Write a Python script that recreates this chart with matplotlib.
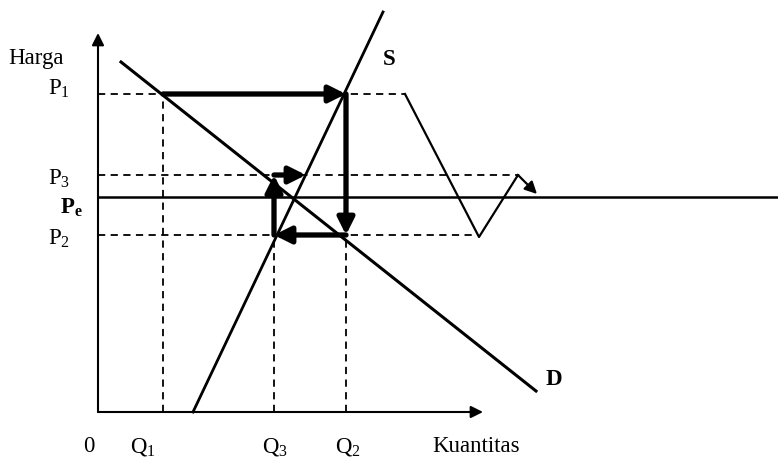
import matplotlib
matplotlib.use('Agg')
import matplotlib.pyplot as plt

plt.rcParams['font.family'] = 'Liberation Serif'
plt.rcParams['mathtext.fontset'] = 'custom'
plt.rcParams['mathtext.rm'] = 'Liberation Serif'
plt.rcParams['mathtext.it'] = 'Liberation Serif:italic'
plt.rcParams['mathtext.bf'] = 'Liberation Serif:bold'

# quantities and prices (distance from the origin)
Q1, Q3, Q2 = 65, 176, 248
P1, P3, Pe, P2 = 318, 237, 215, 177

# demand and supply curves (two end points each)
demand_x = [23, 438]
demand_y = [350, 21]
supply_x = [95, 285]
supply_y = [0, 400]

# axis extent
x_axis_end = 385
y_axis_end = 379
pe_line_end = 680

# price path over time (right-hand zigzag)
path_x = [307, 381, 420]
path_y = [318, 175, 237]
path_arrow_tip = (439, 218)

# right ends of the dashed price guides
p1_guide_end = 307
p3_guide_end = 420
p2_guide_end = 379

# cobweb steps
cobweb = [((Q1, P1), (Q2, P1)),
          ((Q2, P1), (Q2, P2)),
          ((Q2, P2), (Q3, P2)),
          ((Q3, P2), (Q3, P3)),
          ((Q3, P3), (208, P3))]

fig = plt.figure(figsize=(7.78, 4.57), dpi=100)
ax = fig.add_axes([0, 0, 1, 1])
ax.set_xlim(-98, 680)
ax.set_ylim(-45, 412)
ax.axis('off')

# axes with arrows
ax.annotate('', xy=(0, y_axis_end), xytext=(0, 0),
            arrowprops=dict(arrowstyle='-|>', lw=1.5, color='black',
                            mutation_scale=18, shrinkA=0, shrinkB=0))
ax.annotate('', xy=(x_axis_end, 0), xytext=(0, 0),
            arrowprops=dict(arrowstyle='-|>', lw=1.5, color='black',
                            mutation_scale=18, shrinkA=0, shrinkB=0))

# dashed guides
dash = dict(color='black', lw=1.3, ls=(0, (4, 3)))
ax.plot([0, p1_guide_end], [P1, P1], **dash)
ax.plot([0, p3_guide_end], [P3, P3], **dash)
ax.plot([0, p2_guide_end], [P2, P2], **dash)
ax.plot([Q1, Q1], [0, P1], **dash)
ax.plot([Q3, Q3], [0, P2], **dash)
ax.plot([Q2, Q2], [0, P2], **dash)

# equilibrium price line
ax.plot([0, pe_line_end], [Pe, Pe], color='black', lw=1.8)

# demand and supply
ax.plot(demand_x, demand_y, color='black', lw=2.2)
ax.plot(supply_x, supply_y, color='black', lw=2.0)

# cobweb arrows
for start, end in cobweb:
    ax.annotate('', xy=end, xytext=start,
                arrowprops=dict(arrowstyle='-|>', lw=3.8, color='black',
                                mutation_scale=25, shrinkA=0, shrinkB=0))

# price path over time
ax.plot(path_x, path_y, color='black', lw=1.6)
ax.annotate('', xy=path_arrow_tip, xytext=(path_x[-1], path_y[-1]),
            arrowprops=dict(arrowstyle='-|>', lw=1.6, color='black',
                            mutation_scale=18, shrinkA=0, shrinkB=0))

# labels
fs = 16.5
lab = dict(fontsize=fs, ha='left', va='baseline')
ax.text(-90, 348, 'Harga', **lab)
ax.text(-50, 317, r'P$_1$', **lab)
ax.text(-50, 227, r'P$_3$', **lab)
ax.text(-38, 198, r'$\mathbf{P_e}$', **lab)
ax.text(-50, 167, r'P$_2$', **lab)
ax.text(-15, -40, '0', **lab)
ax.text(32, -40, r'Q$_1$', **lab)
ax.text(164, -40, r'Q$_3$', **lab)
ax.text(237, -40, r'Q$_2$', **lab)
ax.text(334, -40, 'Kuantitas', **lab)
ax.text(285, 347, 'S', fontweight='bold', **lab)
ax.text(448, 27, 'D', fontweight='bold', **lab)

fig.savefig('out.png', dpi=100)
